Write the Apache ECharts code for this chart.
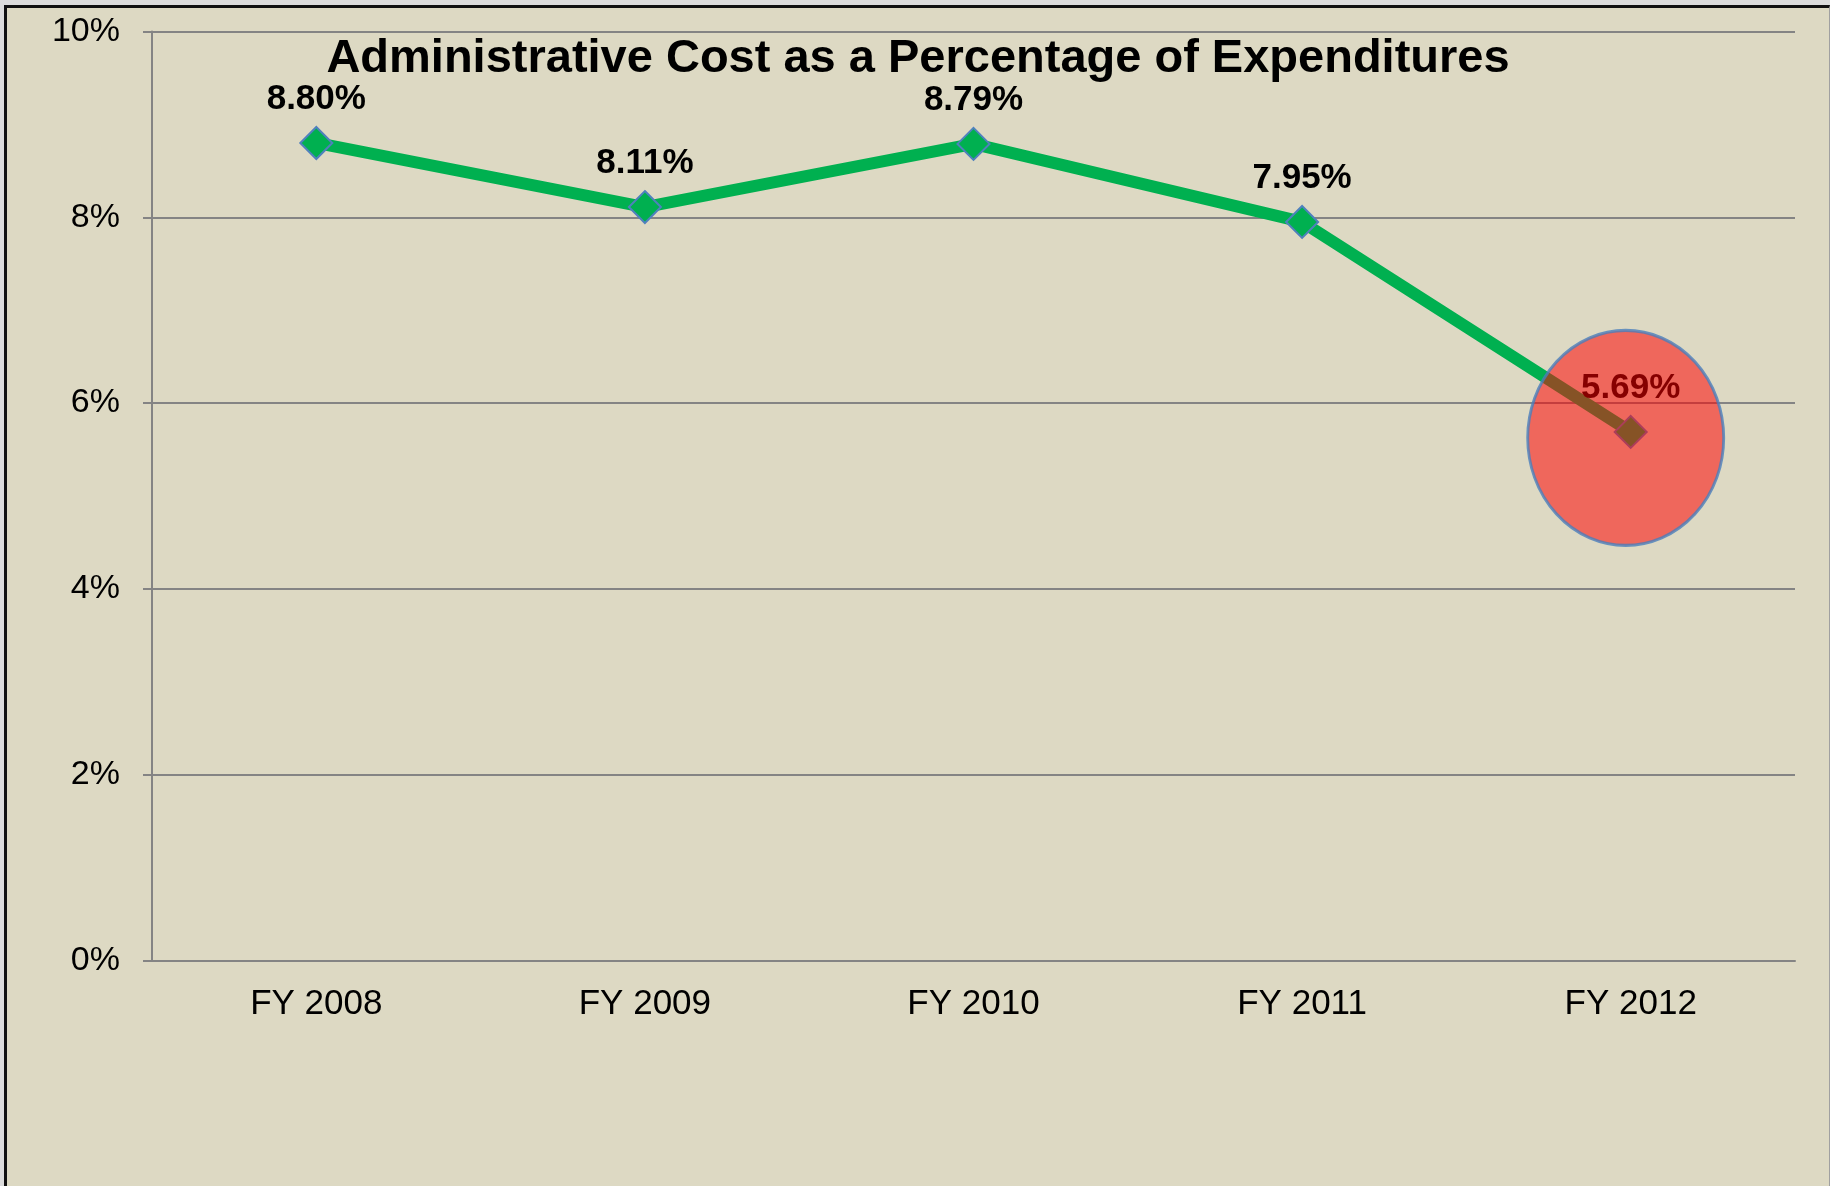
<!DOCTYPE html>
<html>
<head>
<meta charset="utf-8">
<script src="https://cdn.jsdelivr.net/npm/echarts@6/dist/echarts.min.js"></script>
<style>
  html, body { margin: 0; padding: 0; background: #dcdcdc; }
  #main {
    position: absolute; left: 4px; top: 5px;
    width: 1826px; height: 1181px; box-sizing: border-box;
    border-left: 3px solid #111; border-top: 3px solid #111; border-right: 1px solid #a0a0a0;
  }
</style>
</head>
<body>
<div id="main"></div>
<script>
var years = ['FY 2008', 'FY 2009', 'FY 2010', 'FY 2011', 'FY 2012'];
var adminPct = [8.80, 8.11, 8.79, 7.95, 5.69];
var highlight = [['FY 2012', 5.69]];
var yTicks = [0, 2, 4, 6, 8, 10];

var chart = echarts.init(document.getElementById('main'));
var font = 'Liberation Sans, Arial, sans-serif';

option = {
    backgroundColor: '#ddd9c3',
    title: {
        text: 'Administrative Cost as a Percentage of Expenditures',
        left: 'center',
        top: 23,
        textStyle: { fontFamily: font, fontSize: 47, fontWeight: 'bold', color: '#000' }
    },
    grid: { left: 145, right: 34, top: 23.5, bottom: 225.5 },
    xAxis: {
        type: 'category',
        data: years,
        boundaryGap: true,
        axisLine: { lineStyle: { color: '#848484', width: 2 } },
        axisTick: { length: 9, lineStyle: { color: '#848484', width: 2 } },
        axisLabel: { margin: 26, fontFamily: font, fontSize: 35, color: '#000' }
    },
    yAxis: {
        type: 'value',
        min: yTicks[0],
        max: yTicks[yTicks.length - 1],
        interval: 2,
        axisLine: { show: true, lineStyle: { color: '#848484', width: 2 } },
        axisTick: { show: true, length: 9, lineStyle: { color: '#848484', width: 2 } },
        splitLine: { lineStyle: { color: '#848484', width: 2 } },
        axisLabel: {
            margin: 32, fontFamily: font, fontSize: 34, color: '#000',
            formatter: function (v) { return v + '%'; }
        }
    },
    series: [
        {
            name: 'Admin cost',
            type: 'line',
            data: adminPct,
            z: 2,
            symbol: 'diamond',
            symbolSize: 32,
            lineStyle: { color: '#00b050', width: 12 },
            itemStyle: { color: '#00b050', borderColor: '#4f81bd', borderWidth: 2 },
            label: {
                show: true,
                position: 'top',
                distance: 9,
                fontFamily: font,
                fontSize: 35,
                fontWeight: 'bold',
                color: '#000',
                formatter: function (p) { return p.value.toFixed(2) + '%'; }
            }
        },
        {
            name: 'Highlight',
            type: 'scatter',
            data: highlight,
            z: 5,
            symbol: 'circle',
            symbolSize: [196, 215],
            symbolOffset: [-5, 6],
            silent: true,
            itemStyle: {
                color: 'rgba(255, 0, 0, 0.66)',
                borderColor: '#4a7ebb',
                borderWidth: 3,
                decal: {
                    symbol: 'rect',
                    symbolSize: 1,
                    dashArrayX: [2, 1],
                    dashArrayY: [1, 2],
                    color: 'rgba(255, 190, 190, 0.3)'
                }
            }
        }
    ]
};

chart.setOption(option);
</script>
</body>
</html>
